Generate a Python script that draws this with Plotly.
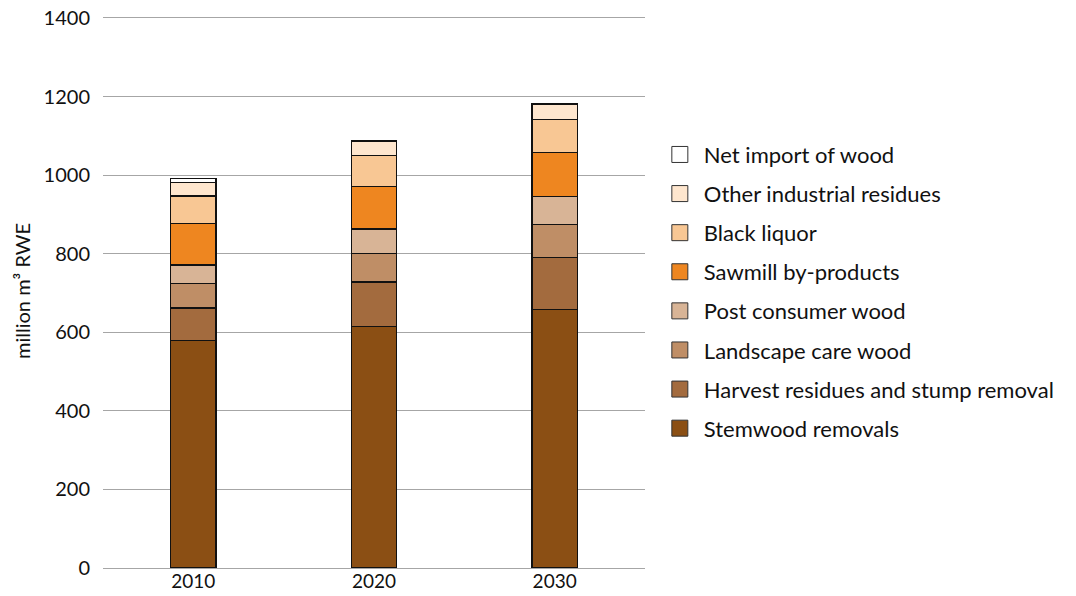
import plotly.graph_objects as go

years = ["2010", "2020", "2030"]
series_names = [
    "Stemwood removals",
    "Harvest residues and stump removal",
    "Landscape care wood",
    "Post consumer wood",
    "Sawmill by-products",
    "Black liquor",
    "Other industrial residues",
    "Net import of wood",
]
stemwood = [580, 615, 658]
harvest = [82, 113, 133]
landscape = [63, 73, 84]
post_consumer = [46, 62, 71]
sawmill = [105, 107, 112]
black_liquor = [71, 80, 83]
other_industrial = [34, 35, 40]
net_import = [11, 2, 2]
values = [stemwood, harvest, landscape, post_consumer, sawmill, black_liquor, other_industrial, net_import]
colors = ["#8B4F14", "#A36B3E", "#BF8E66", "#D8B496", "#EE8620", "#F8C794", "#FEE6CE", "#FFFFFF"]
y_ticks = [0, 200, 400, 600, 800, 1000, 1200, 1400]

fig = go.Figure()
# stacked bars (bottom to top)
for name, vals, col in zip(series_names, values, colors):
    fig.add_trace(go.Bar(
        x=years, y=vals, name=name, marker=dict(color=col, line=dict(color="#111111", width=1.2)),
        width=0.25, showlegend=False,
    ))
# legend entries (top of stack first)
for name, col in reversed(list(zip(series_names, colors))):
    fig.add_trace(go.Scatter(
        x=[years[0]], y=[None], mode="markers", name=name, legendgroup=name,
        marker=dict(symbol="square", size=16, color=col, line=dict(color="#333333", width=1)),
        showlegend=True,
    ))

font_family = "Lato, 'Open Sans', sans-serif"
fig.update_layout(
    barmode="stack",
    width=1076, height=596,
    margin=dict(l=103, r=431, t=14, b=28, autoexpand=False),
    plot_bgcolor="white", paper_bgcolor="white",
    font=dict(family=font_family, color="#111111"),
    legend=dict(
        x=1.02, y=0.784, xanchor="left", yanchor="top",
        traceorder="grouped", tracegroupgap=7.5,
        font=dict(size=22, family=font_family, color="#111111"),
        itemsizing="trace", itemwidth=38,
    ),
    yaxis=dict(
        range=[0, 1410], tickvals=y_ticks, ticktext=[str(v) for v in y_ticks],
        showgrid=True, gridcolor="#A6A6A6", gridwidth=1,
        zeroline=True, zerolinecolor="#A6A6A6", zerolinewidth=1,
        showline=False, ticks="", ticklabelstandoff=12, ticklabeloverflow="allow",
        tickfont=dict(size=20, family=font_family, color="#111111"),
        title=dict(text="million m³ RWE", font=dict(size=20, family=font_family, color="#111111"), standoff=7),
        automargin=False,
    ),
    xaxis=dict(
        type="category", showline=False, ticks="", showgrid=False, automargin=False,
        ticklabeloverflow="allow",
        tickfont=dict(size=19, family=font_family, color="#111111"),
    ),
)
fig.write_html("out.html", config={"displayModeBar": False},
               post_script="document.body.style.margin='0px';")
